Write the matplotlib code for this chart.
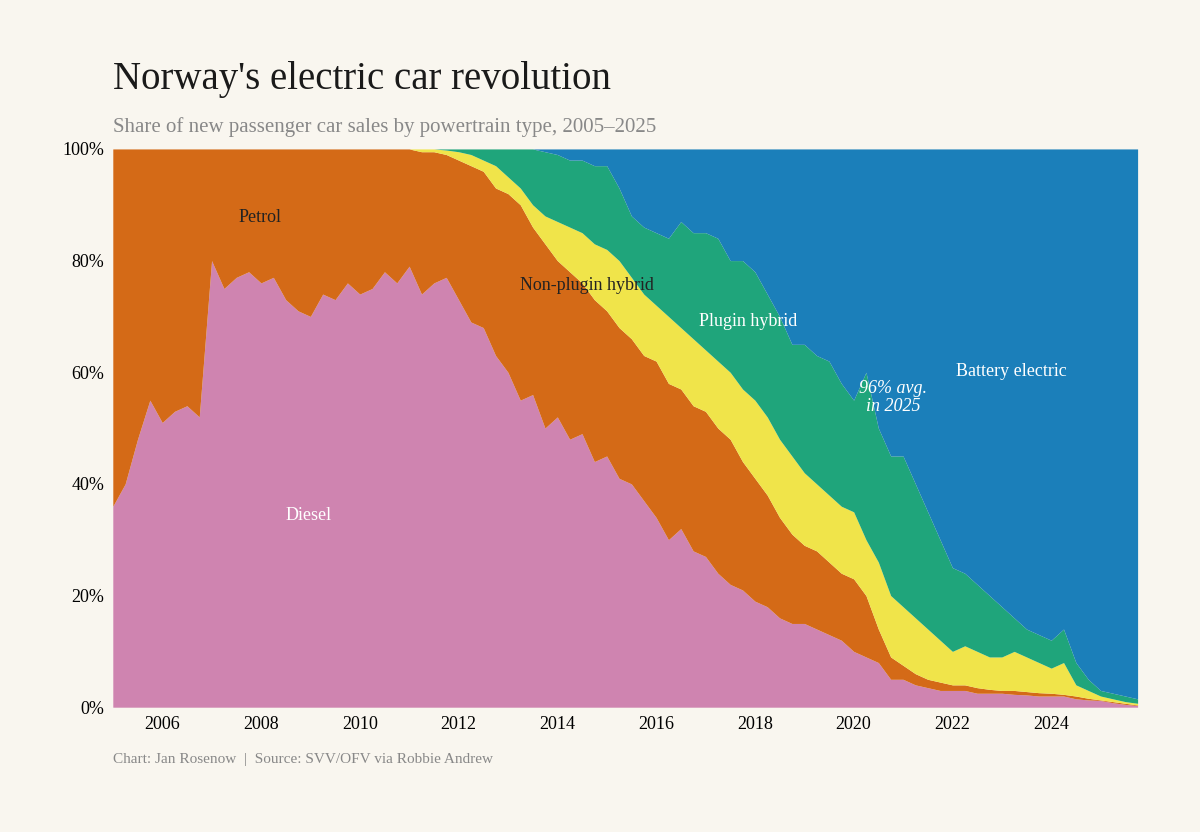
import numpy as np
import matplotlib.pyplot as plt

# quarterly points, 2005 Q1 .. 2025 Q4
years = np.arange(2005, 2026, 0.25)

# cumulative share (%) at the top of each band, bottom to top
diesel_top = [36, 40, 48, 55, 51, 53, 54, 52, 80, 75, 77, 78, 76, 77, 73, 71,
              70, 74, 73, 76, 74, 75, 78, 76, 79, 74, 76, 77, 73, 69, 68, 63,
              60, 55, 56, 50, 52, 48, 49, 44, 45, 41, 40, 37, 34, 30, 32, 28,
              27, 24, 22, 21, 19, 18, 16, 15, 15, 14, 13, 12, 10, 9, 8, 5,
              5, 4, 3.5, 3, 3, 3, 2.5, 2.5, 2.5, 2.3, 2.2, 2, 2, 2, 1.5, 1.3,
              1.2, 0.8, 0.5, 0.3]
petrol_top = [100] * 24 + [100, 99.5, 99.5, 99, 98, 97, 96, 93,
              92, 90, 86, 83, 80, 78, 76, 73, 71, 68, 66, 63, 62, 58, 57, 54,
              53, 50, 48, 44, 41, 38, 34, 31, 29, 28, 26, 24, 23, 20, 14, 9,
              7.5, 6, 5, 4.5, 4, 4, 3.5, 3.2, 3, 3, 2.8, 2.6, 2.5, 2.3, 2, 1.6,
              1.3, 1, 0.7, 0.4]
hybrid_top = [100] * 24 + [100, 100, 100, 99.8, 99.5, 99, 98, 97,
              95, 93, 90, 88, 87, 86, 85, 83, 82, 80, 77, 74, 72, 70, 68, 66,
              64, 62, 60, 57, 55, 52, 48, 45, 42, 40, 38, 36, 35, 30, 26, 20,
              18, 16, 14, 12, 10, 11, 10, 9, 9, 10, 9, 8, 7, 8, 4, 3,
              2, 1.5, 1, 0.7]
plugin_top = [100] * 32 + [100, 100, 100, 99.5, 99, 98, 98, 97,
              97, 93, 88, 86, 85, 84, 87, 85, 85, 84, 80, 80, 78, 74, 70, 65,
              65, 63, 62, 58, 55, 60, 50, 45, 45, 40, 35, 30, 25, 24, 22, 20,
              18, 16, 14, 13, 12, 14, 8, 5, 3, 2.5, 2, 1.5]
bev_top = [100] * len(years)

bg = '#F9F6EF'
fig = plt.figure(figsize=(12, 8.32), dpi=100, facecolor=bg)
ax = fig.add_axes([0.094, 0.150, 0.854, 0.671])
ax.set_facecolor(bg)

bands = [(np.zeros(len(years)), diesel_top, '#CF84B0'),
         (diesel_top, petrol_top, '#D46A17'),
         (petrol_top, hybrid_top, '#F0E44A'),
         (hybrid_top, plugin_top, '#1FA57B'),
         (plugin_top, bev_top, '#1B7FBA')]
for lo, hi, c in bands:
    ax.fill_between(years, lo, hi, color=c, lw=0)

ax.set_xlim(2005, 2025.75)
ax.set_ylim(0, 100)
for s in ax.spines.values():
    s.set_visible(False)
font = 'Liberation Serif'
ax.set_yticks([0, 20, 40, 60, 80, 100])
ax.set_yticklabels([f'{v}%' for v in [0, 20, 40, 60, 80, 100]], fontfamily=font, fontsize=13)
ax.set_xticks(range(2006, 2025, 2))
ax.set_xticklabels([str(y) for y in range(2006, 2025, 2)], fontfamily=font, fontsize=13)
ax.tick_params(length=0, pad=6)

lab = dict(fontfamily=font, fontsize=13, ha='center', va='center')
ax.text(2007.98, 87.8, 'Petrol', color='#222222', **lab)
ax.text(2008.96, 34.4, 'Diesel', color='white', **lab)
ax.text(2014.6, 75.6, 'Non-plugin hybrid', color='#222222', **lab)
ax.text(2017.86, 69, 'Plugin hybrid', color='white', **lab)
ax.text(2020.8, 55.5, '96% avg.\nin 2025', color='white', style='italic', linespacing=1.1, **lab)
ax.text(2023.2, 60.2, 'Battery electric', color='white', **lab)

fig.text(0.094, 0.905, "Norway's electric car revolution", fontfamily=font, fontsize=28, color='#1a1a1a', va='center')
fig.text(0.094, 0.847, 'Share of new passenger car sales by powertrain type, 2005\u20132025',
         fontfamily=font, fontsize=15, color='#888888', va='center')
fig.text(0.094, 0.087, 'Chart: Jan Rosenow  |  Source: SVV/OFV via Robbie Andrew',
         fontfamily=font, fontsize=11, color='#888888', va='center')

fig.savefig('out.png', dpi=100, facecolor=bg)
